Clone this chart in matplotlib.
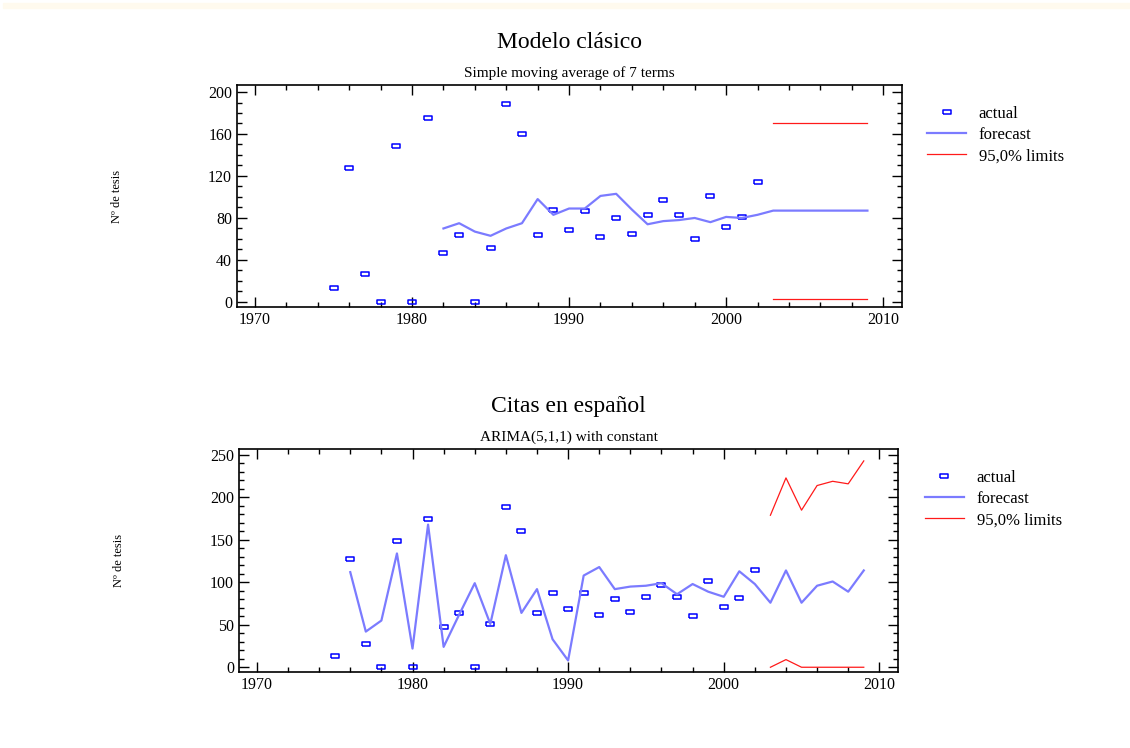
import matplotlib
matplotlib.use("Agg")
import matplotlib.pyplot as plt
from matplotlib.patches import Rectangle
from matplotlib.ticker import MultipleLocator

plt.rcParams["font.family"] = ["Liberation Serif", "DejaVu Serif"]

# datos observados (Nº de tesis por año)
anios = list(range(1975, 2003))
actual = [13, 128, 27, 0, 149, 0, 175, 47, 64, 0, 51, 189, 160, 64,
          88, 69, 87, 62, 80, 65, 83, 97, 83, 60, 101, 71, 81, 114]

# modelo clásico: media móvil de 7 términos
anios_ma = list(range(1982, 2010))
forecast_ma = [70, 75, 67, 63, 70, 75, 98, 83, 89, 89, 101, 103, 88, 74,
               77, 78, 80, 76, 81, 80, 83, 87, 87, 87, 87, 87, 87, 87]
anios_lim = list(range(2003, 2010))
sup_ma = [170, 170, 170, 170, 170, 170, 170]
inf_ma = [3, 3, 3, 3, 3, 3, 3]

# ARIMA(5,1,1) con constante
anios_ar = list(range(1976, 2010))
forecast_ar = [112, 42, 55, 134, 22, 168, 24, 62, 99, 51, 132, 64, 92, 33,
               8, 108, 118, 92, 95, 96, 99, 86, 98, 89, 83, 113, 98, 76,
               114, 76, 96, 101, 89, 114]
sup_ar = [179, 223, 185, 214, 219, 216, 243]
inf_ar = [0, 9, 0, 0, 0, 0, 0]

rect = [(-1, -0.55), (1, -0.55), (1, 0.55), (-1, 0.55), (-1, -0.55)]
AZUL = "#0000ff"
LINEA = "#7b7bff"
ROJO = "#ff1a1a"


def panel(pos, titulo, subtitulo, fc_x, fc_y, sup, inf, ylim, ymaj, ymin, leg_x):
    ax = fig.add_axes(pos)
    ax.plot(anios, actual, linestyle="none", marker=rect, markersize=6,
            markerfacecolor="none", markeredgecolor=AZUL, markeredgewidth=1.1,
            label="actual")
    ax.plot(fc_x, fc_y, color=LINEA, lw=1.6, label="forecast")
    ax.plot(anios_lim, sup, color=ROJO, lw=0.9, label="95,0% limits")
    ax.plot(anios_lim, inf, color=ROJO, lw=0.9)
    ax.set_xlim(1968.85, 2011.2)
    ax.set_ylim(*ylim)
    ax.xaxis.set_major_locator(MultipleLocator(10))
    ax.xaxis.set_minor_locator(MultipleLocator(2))
    ax.yaxis.set_major_locator(MultipleLocator(ymaj))
    ax.yaxis.set_minor_locator(MultipleLocator(ymin))
    ax.tick_params(which="both", direction="in", top=True, right=True,
                   labelsize=11.5, width=1)
    ax.tick_params(which="major", length=7)
    ax.tick_params(which="minor", length=3.5)
    for s in ax.spines.values():
        s.set_linewidth(1.2)
    ax.set_ylabel("Nº de tesis", fontsize=9, labelpad=61)
    ax.text(0.5, 1.19, titulo, transform=ax.transAxes, ha="center",
            va="center", fontsize=17)
    ax.text(0.5, 1.055, subtitulo, transform=ax.transAxes, ha="center",
            va="center", fontsize=11)
    ax.legend(loc="upper left", bbox_to_anchor=(leg_x, 0.975), frameon=False,
              fontsize=12, handlelength=2.35, labelspacing=0.32,
              handletextpad=0.75)
    return ax


fig = plt.figure(figsize=(11.3, 7.48), dpi=100)
fig.patches.append(Rectangle((0.003, 0.989), 0.997, 0.007,
                             transform=fig.transFigure, color="#fffaee",
                             zorder=0))

panel([0.2097, 0.5896, 0.5885, 0.2968], "Modelo clásico",
      "Simple moving average of 7 terms", anios_ma, forecast_ma,
      sup_ma, inf_ma, (-4.8, 206.7), 40, 10, 1.015)
panel([0.2115, 0.1016, 0.5832, 0.2981], "Citas en español",
      "ARIMA(5,1,1) with constant", anios_ar, forecast_ar,
      sup_ar, inf_ar, (-5.6, 257), 50, 10, 1.018)

fig.savefig("out.png", dpi=100)
